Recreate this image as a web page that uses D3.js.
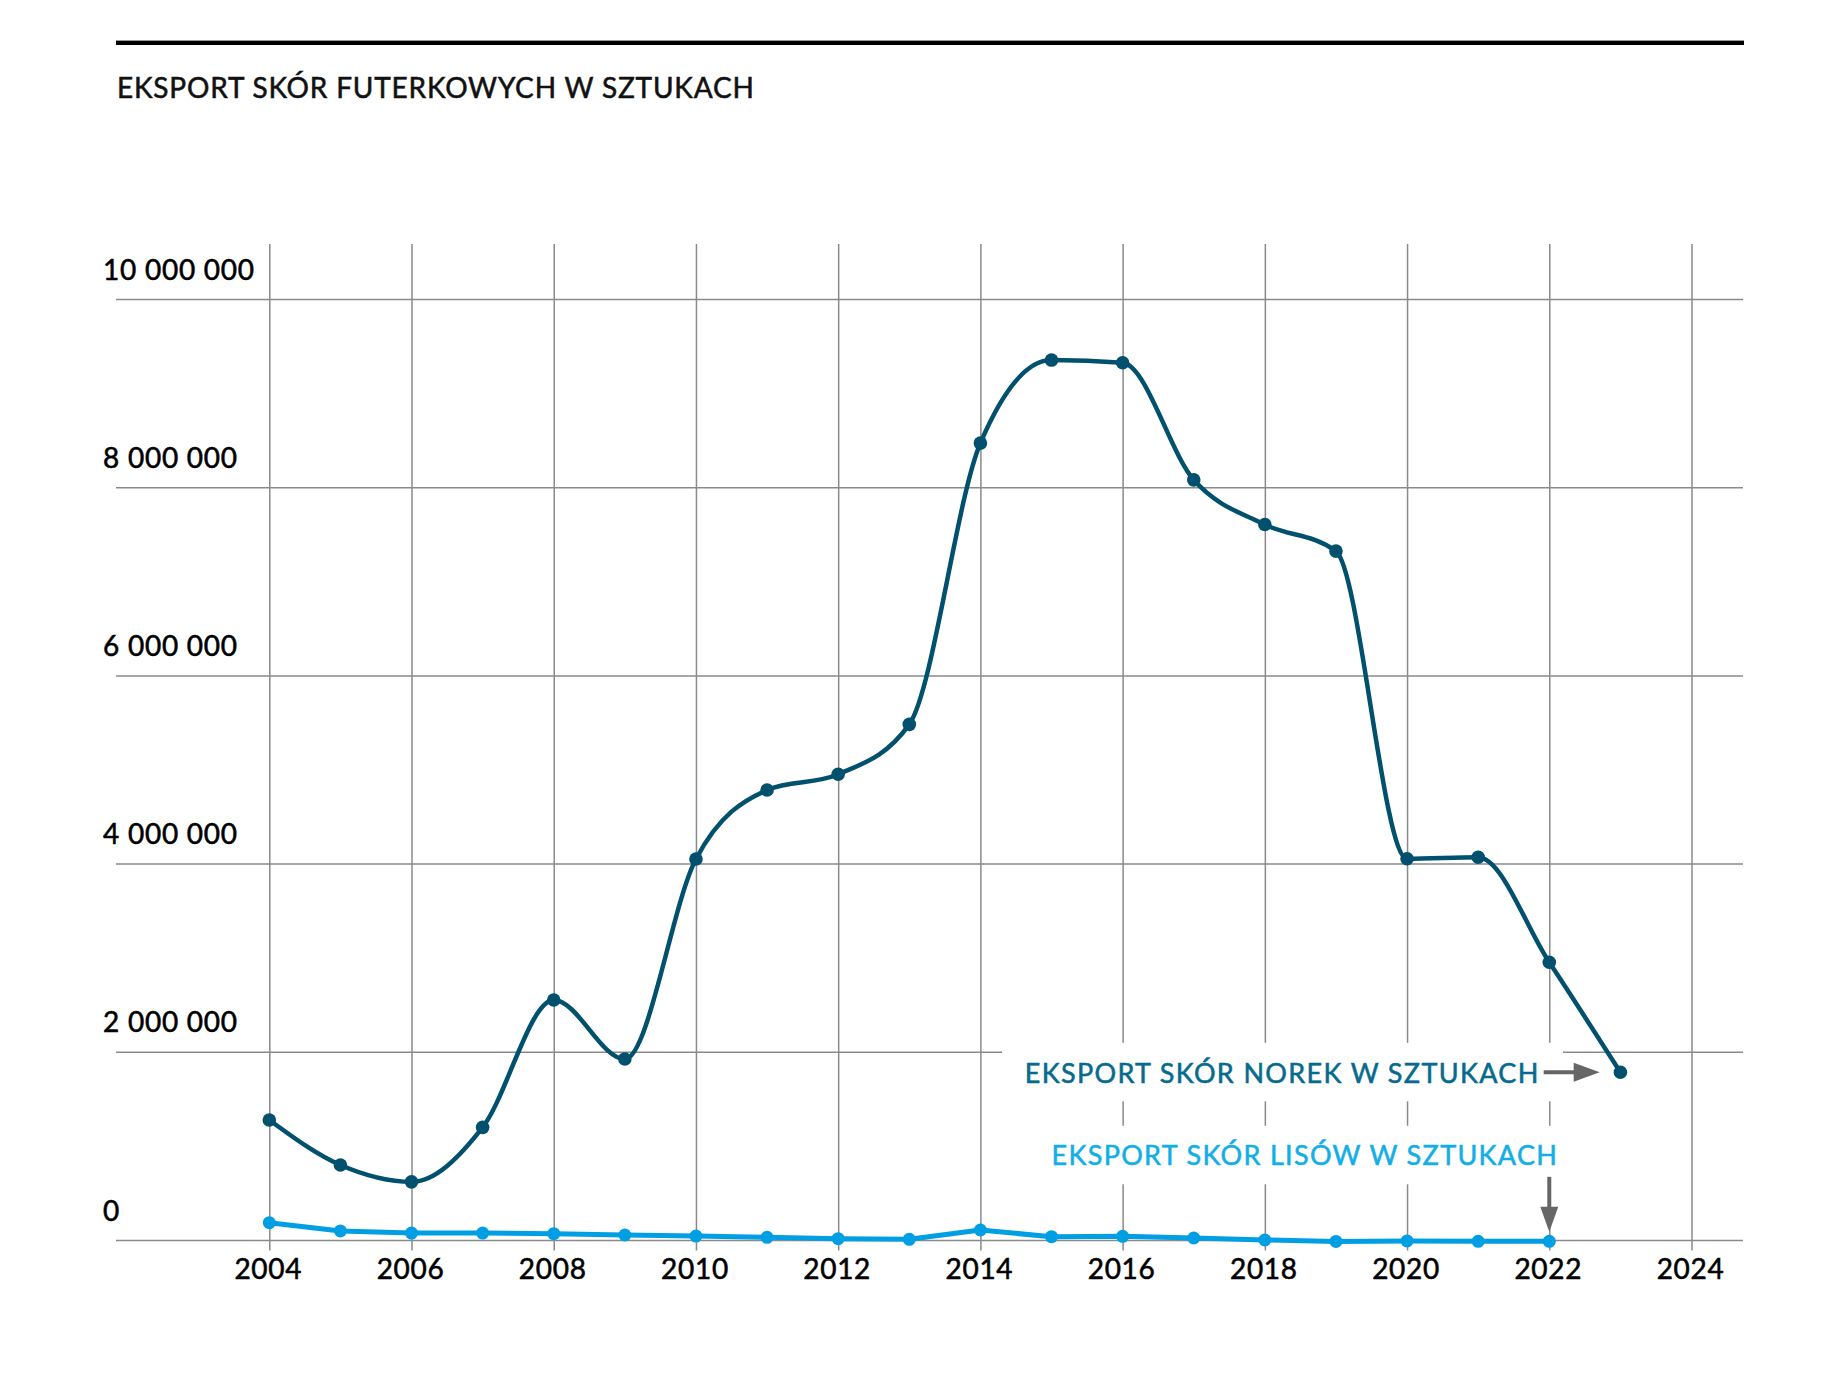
<!DOCTYPE html>
<html>
<head>
<meta charset="utf-8">
<script src="https://cdn.jsdelivr.net/npm/d3@7"></script>
<style>
  html, body { margin: 0; padding: 0; background: #fff; }
  svg { display: block; font-family: Lato, "Noto Sans", sans-serif; }
</style>
</head>
<body>
<svg id="chart" width="1824" height="1382"></svg>
<script>
// ---- data ----
const years = [2004, 2005, 2006, 2007, 2008, 2009, 2010, 2011, 2012, 2013,
               2014, 2015, 2016, 2017, 2018, 2019, 2020, 2021, 2022, 2023];
const minkValues = [1275000, 797000, 618000, 1197000, 2550000, 1923000, 4049000, 4782000, 4949000, 5480000,
                    8469000, 9351000, 9322000, 8078000, 7603000, 7321000, 4051000, 4068000, 2951000, 1782000];
const foxYears = [2004, 2005, 2006, 2007, 2008, 2009, 2010, 2011, 2012, 2013,
                  2014, 2015, 2016, 2017, 2018, 2019, 2020, 2021, 2022];
const foxValues = [184000, 96000, 74000, 74000, 67000, 53000, 42000, 28000, 14000, 7000,
                   106000, 35000, 39000, 21000, 0, -15000, -10000, -14000, -14000];
const xTicks = [2004, 2006, 2008, 2010, 2012, 2014, 2016, 2018, 2020, 2022, 2024];
const yTicks = [0, 2000000, 4000000, 6000000, 8000000, 10000000];
const titleText = "EKSPORT SKÓR FUTERKOWYCH W SZTUKACH";
const minkLabel = "EKSPORT SKÓR NOREK W SZTUKACH";
const foxLabel = "EKSPORT SKÓR LISÓW W SZTUKACH";

// ---- styles ----
const C_MINK = "#00506e";
const C_FOX = "#009fe3";
const C_MINK_TXT = "#066a8e";
const C_FOX_TXT = "#12aee6";
const C_GRID = "#8a8a8a";
const C_ARROW = "#666666";

const svg = d3.select("#chart");
svg.append("rect").attr("width", 1824).attr("height", 1382).attr("fill", "#fff");

const left = 116, right = 1743;
const x = d3.scaleLinear().domain([2004, 2024]).range([269.3, 1691.5]);
const y = d3.scaleLinear().domain([0, 10000000]).range([1240, 299]);
const fmt = d3.formatLocale({decimal: ",", thousands: "\u00a0", grouping: [3], currency: ["", ""]}).format(",");

function heavy(sel, color) {
  return sel.attr("fill", color).attr("stroke", color).attr("stroke-width", 0.55)
    .attr("paint-order", "stroke").attr("font-weight", 400);
}

// top rule
svg.append("rect").attr("x", left).attr("y", 40.6).attr("width", right + 1 - left).attr("height", 4.4).attr("fill", "#000");

// title
heavy(svg.append("text").attr("x", 117).attr("y", 97.5)
  .attr("font-size", 28).attr("letter-spacing", 0.82), "#111")
  .text(titleText);

// horizontal grid
const gy = svg.append("g").attr("transform", `translate(${left},0)`)
  .call(d3.axisLeft(y).tickValues(yTicks).tickSize(-(right - left)).tickFormat(""));
gy.select(".domain").remove();
gy.selectAll("line").attr("stroke", C_GRID).attr("stroke-width", 1.5);

// vertical grid
const gx = svg.append("g").attr("transform", `translate(0,${1250.5})`)
  .call(d3.axisBottom(x).tickValues(xTicks).tickSize(-(1250.5 - 244)).tickFormat(""));
gx.select(".domain").remove();
gx.selectAll("line").attr("stroke", C_GRID).attr("stroke-width", 1.5);

// y labels
const ly = svg.append("g").attr("transform", "translate(103,0)")
  .call(d3.axisLeft(y).tickValues(yTicks).tickSize(0).tickFormat(fmt));
ly.select(".domain").remove();
heavy(ly.selectAll("text").attr("x", 0).attr("dy", -20).attr("text-anchor", "start")
  .attr("font-size", 28).attr("letter-spacing", 0.75)
  .attr("font-family", "Lato, 'Noto Sans', sans-serif"), "#000");

// x labels
const lx = svg.append("g").attr("transform", "translate(0,1240)")
  .call(d3.axisBottom(x).tickValues(xTicks).tickSize(0).tickFormat(d3.format("d")));
lx.select(".domain").remove();
heavy(lx.selectAll("text").attr("y", 39.3).attr("dy", 0).attr("dx", -1.5)
  .attr("font-size", 28).attr("letter-spacing", 0.7)
  .attr("font-family", "Lato, 'Noto Sans', sans-serif"), "#000");

// annotation boxes (white, interrupt grid)
const lastMinkY = y(minkValues[minkValues.length - 1]);
const lastMinkX = x(years[years.length - 1]);
const lastFoxX = x(foxYears[foxYears.length - 1]);
const lastFoxY = y(foxValues[foxValues.length - 1]);

svg.append("rect").attr("x", 1002).attr("y", lastMinkY - 29.5).attr("width", 561).attr("height", 58.5).attr("fill", "#fff");
svg.append("rect").attr("x", 1030).attr("y", lastMinkY + 53.5).attr("width", 540).attr("height", 58.5).attr("fill", "#fff");

// mink label + arrow
const tipX = lastMinkX - 20.7;
heavy(svg.append("text").attr("x", tipX - 60).attr("y", lastMinkY + 11)
  .attr("text-anchor", "end").attr("font-size", 27).attr("letter-spacing", 1.35), C_MINK_TXT)
  .text(minkLabel);
svg.append("line").attr("x1", tipX - 56).attr("x2", tipX - 24).attr("y1", lastMinkY).attr("y2", lastMinkY)
  .attr("stroke", C_ARROW).attr("stroke-width", 4);
svg.append("path")
  .attr("d", `M${tipX - 26},${lastMinkY - 9.5}L${tipX},${lastMinkY}L${tipX - 26},${lastMinkY + 9.5}Z`)
  .attr("fill", C_ARROW);

// fox label + arrow
heavy(svg.append("text").attr("x", lastFoxX + 9).attr("y", lastMinkY + 93)
  .attr("text-anchor", "end").attr("font-size", 27).attr("letter-spacing", 1.33), C_FOX_TXT)
  .text(foxLabel);
const fTip = lastFoxY - 9.6;
svg.append("line").attr("x1", lastFoxX).attr("x2", lastFoxX).attr("y1", lastMinkY + 104.5).attr("y2", fTip - 22)
  .attr("stroke", C_ARROW).attr("stroke-width", 4);
svg.append("path")
  .attr("d", `M${lastFoxX - 9},${fTip - 25}L${lastFoxX},${fTip}L${lastFoxX + 9},${fTip - 25}Z`)
  .attr("fill", C_ARROW);

// fox series
const fox = foxYears.map((yr, i) => ({yr, v: foxValues[i]}));
svg.append("path").datum(fox)
  .attr("d", d3.line().x(d => x(d.yr)).y(d => y(d.v)).curve(d3.curveLinear))
  .attr("fill", "none").attr("stroke", C_FOX).attr("stroke-width", 5).attr("stroke-linejoin", "round");
svg.append("g").selectAll("circle").data(fox).join("circle")
  .attr("cx", d => x(d.yr)).attr("cy", d => y(d.v)).attr("r", 6.5).attr("fill", C_FOX);

// mink series
const mink = years.map((yr, i) => ({yr, v: minkValues[i]}));
svg.append("path").datum(mink)
  .attr("d", d3.line().x(d => x(d.yr)).y(d => y(d.v)).curve(d3.curveMonotoneX))
  .attr("fill", "none").attr("stroke", C_MINK).attr("stroke-width", 4.5).attr("stroke-linejoin", "round");
svg.append("g").selectAll("circle").data(mink).join("circle")
  .attr("cx", d => x(d.yr)).attr("cy", d => y(d.v)).attr("r", 6.8).attr("fill", C_MINK);
</script>
</body>
</html>
